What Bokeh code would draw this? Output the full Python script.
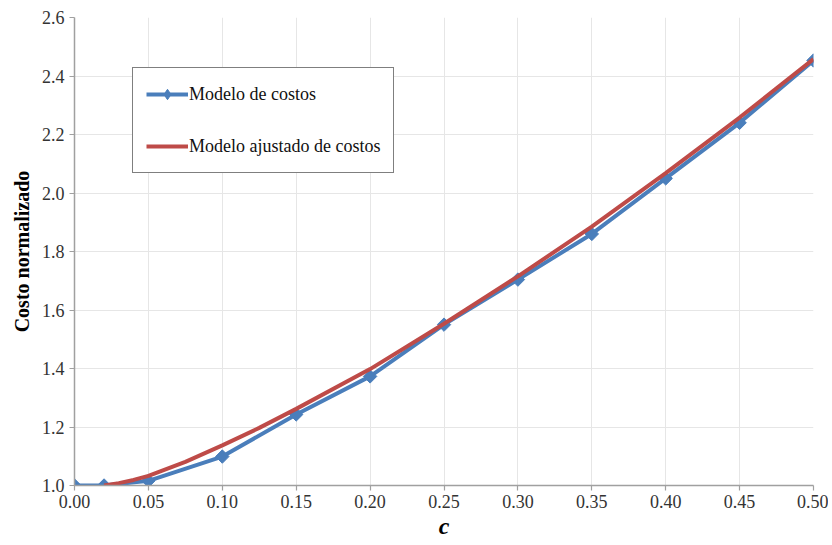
import numpy as np
from bokeh.plotting import figure
from bokeh.models import Legend, LegendItem, FixedTicker, NumeralTickFormatter
from bokeh.embed import file_html
from bokeh.resources import INLINE

# data
c_model = [0.00, 0.02, 0.05, 0.10, 0.15, 0.20, 0.25, 0.30, 0.35, 0.40, 0.45, 0.50]
cost_model = [1.00, 1.00, 1.016, 1.099, 1.243, 1.373, 1.55, 1.704, 1.86, 2.05, 2.24, 2.453]

c_fit = [0.02, 0.03, 0.04, 0.05, 0.075, 0.10, 0.125, 0.15, 0.20, 0.25, 0.30, 0.35, 0.40, 0.45, 0.50]
cost_fit = [1.00, 1.008, 1.019, 1.033, 1.081, 1.137, 1.197, 1.262, 1.398, 1.553, 1.715, 1.885, 2.068, 2.258, 2.458]

x_ticks = [0.00, 0.05, 0.10, 0.15, 0.20, 0.25, 0.30, 0.35, 0.40, 0.45, 0.50]
y_ticks = [1.0, 1.2, 1.4, 1.6, 1.8, 2.0, 2.2, 2.4, 2.6]

BLUE = "#4a7ebb"
RED = "#be4b48"
FONT = "Liberation Serif"

p = figure(width=828, height=545, output_backend="svg", toolbar_location=None,
           x_range=(0.0, 0.5), y_range=(1.0, 2.6),
           min_border_left=74, min_border_right=15, min_border_top=17, min_border_bottom=60)
p.outline_line_color = None
p.background_fill_color = "white"

r_blue_line = p.line(c_model, cost_model, line_color=BLUE, line_width=4)
r_blue_pts = p.scatter(c_model, cost_model, marker="square", angle=np.pi / 4, size=9.5,
                       fill_color=BLUE, line_color=BLUE, line_width=1)
# legend-only diamond glyph (kept outside the visible range)
r_legend_diamond = p.scatter([-1.0], [0.0], marker="diamond", size=13,
                             fill_color=BLUE, line_color=BLUE, line_width=1)
r_red = p.line(c_fit, cost_fit, line_color=RED, line_width=4)

for ax in (p.xaxis[0], p.yaxis[0]):
    ax.axis_line_color = "#a0a0a0"
    ax.axis_line_width = 1.5
    ax.major_tick_line_color = "#a0a0a0"
    ax.major_tick_line_width = 1.2
    ax.major_tick_out = 5
    ax.major_tick_in = 0
    ax.minor_tick_line_color = None
    ax.major_label_text_font = FONT
    ax.major_label_text_font_size = "18px"
    ax.major_label_text_color = "#333333"
    ax.axis_label_text_font = FONT
    ax.axis_label_text_color = "#000000"

p.xaxis.ticker = FixedTicker(ticks=x_ticks)
p.yaxis.ticker = FixedTicker(ticks=y_ticks)
p.xaxis.formatter = NumeralTickFormatter(format="0.00")
p.yaxis.formatter = NumeralTickFormatter(format="0.0")
p.xaxis.major_label_standoff = 4
p.yaxis.major_label_standoff = 5

p.xaxis.axis_label = "c"
p.xaxis.axis_label_text_font_style = "bold italic"
p.xaxis.axis_label_text_font_size = "24px"
p.xaxis.axis_label_standoff = 2

p.yaxis.axis_label = "Costo normalizado"
p.yaxis.axis_label_text_font_style = "bold"
p.yaxis.axis_label_text_font_size = "20px"
p.yaxis.axis_label_standoff = 6

p.xgrid.grid_line_color = "#e6e6e6"
p.ygrid.grid_line_color = "#e6e6e6"
p.xgrid.grid_line_width = 1
p.ygrid.grid_line_width = 1

legend = Legend(items=[
    LegendItem(label="Modelo de costos", renderers=[r_blue_line, r_legend_diamond]),
    LegendItem(label="Modelo ajustado de costos", renderers=[r_red]),
], location=(58, 312))
legend.border_line_color = "black"
legend.border_line_width = 1.5
legend.background_fill_color = "white"
legend.background_fill_alpha = 1.0
legend.label_text_font = FONT
legend.label_text_font_size = "18px"
legend.label_text_color = "#111111"
legend.glyph_width = 42
legend.glyph_height = 26
legend.label_height = 26
legend.label_standoff = 1
legend.spacing = 26
legend.padding = 13
legend.margin = 0
p.add_layout(legend, "center")

open("out.html", "w").write(file_html(p, INLINE))
